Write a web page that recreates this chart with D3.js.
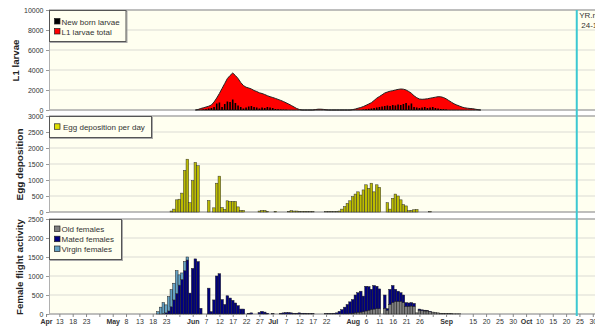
<!DOCTYPE html>
<html>
<head>
<meta charset="utf-8">
<script src="https://cdn.jsdelivr.net/npm/d3@7"></script>
<style>
  body { margin: 0; background: #fff; }
  svg { display: block; font-family: "Liberation Sans", Arial, sans-serif; }
</style>
</head>
<body>
<script>
// axe x : une graduation tous les 5 jours, le nom du mois remplace la premiere du mois
const tickDates = ["04-08","04-13","04-18","04-23","04-28","05-03","05-08","05-13","05-18","05-23","05-28",
  "06-02","06-07","06-12","06-17","06-22","06-27","07-02","07-07","07-12","07-17","07-22","07-27",
  "08-01","08-06","08-11","08-16","08-21","08-26","08-31","09-05","09-10","09-15","09-20","09-25","09-30",
  "10-05","10-10","10-15","10-20","10-25","10-30"];
const tickLabels = ["Apr","13","18","23","","May","8","13","18","23","",
  "Jun","7","12","17","22","27","Jul","7","12","17","22","",
  "Aug","6","11","16","21","26","","Sep","","15","20","25","30",
  "Oct","10","15","20","25","30"];
const monthLabels = ["Apr","May","Jun","Jul","Aug","Sep","Oct"];

// L1 larvae total (surface rouge), une valeur par jour
const larvaeStart = "2011-06-03";
const larvaeTotal = [0,50,150,220,300,380,500,800,1200,1650,2150,2650,3150,3450,3700,
  3450,3150,2750,2450,2280,2200,2100,1950,1850,1720,1650,1550,1430,1330,1250,
  1160,1060,960,850,720,590,450,300,150,50,0,
  0,0,0,0,40,80,80,60,20,0,0,0,0,0,0,0,0,0,
  40,100,180,250,350,470,600,730,950,1180,1350,1520,1700,1800,1880,1930,2000,2060,2100,2080,
  2000,1850,1670,1420,1230,1100,1070,1090,1120,1180,1230,1280,1330,1320,1250,1120,950,780,620,500,
  400,290,220,180,150,130,80,30,0];

// New born larvae (barres noires)
const newbornStart = "2011-06-06";
const newborn = [50,80,150,200,300,650,750,300,600,850,800,1050,700,450,300,150,
  250,350,400,300,250,150,250,200,300,250,200,100,80,50,40,30,
  0,0,0,0,0,0,0,0,0,0,0,0,0,0,0,0,0,0,0,0,0,0,0,0,0,0,0,0,
  50,80,120,150,200,250,300,350,400,450,400,500,450,550,500,600,
  700,450,650,300,250,200,250,300,200,250,300,200,150,100,80,50];

// Egg deposition per day
const eggStart = "2011-05-25";
const eggs = [30,90,380,400,590,1300,1650,290,980,1550,1450,
  0,0,0,
  360,0,130,900,1120,140,80,350,330,330,330,160,50,50,
  0,0,0,0,0,30,50,50,20,0,0,20,0,0,0,0,20,40,30,30,20,15,20,10,10,10,0,0,0,0,10,10,10,10,15,
  30,90,170,270,350,480,560,630,530,690,850,740,900,630,850,770,0,0,290,90,
  430,560,500,380,230,190,40,50,70,80,0,0,0,0,10];

// Female flight activity (barres empilees)
const virginStart = "2011-05-18";
const virginFemales = [0,0,60,180,290,210,380,450,440,600,270,170,240,80];
const matedStart = "2011-05-18";
const matedFemales = [0,0,0,0,10,30,80,190,370,540,760,910,1140,1420,
  550,1200,1450,1380,150,0,0,680,60,370,1000,1060,380,250,480,420,360,290,220,130,130,
  0,20,30,0,0,40,70,50,20,0,10,0,0,20,30,40,40,30,20,20,30,20,20,10,10,10,0,0,0,0,10,10,10,20,30,
  70,115,180,250,310,360,470,520,550,410,650,620,530,620,590,520,
  0,
  350,40,400,450,320,270,230,200,100,90,90,80,0,30,20,20,10,10];
const oldStart = "2011-07-27";
const oldFemales = [0,0,0,0,10,20,30,40,50,60,80,100,120,130,140,140,
  0,
  150,100,250,300,330,330,330,300,200,200,210,200,30,100,90,80,80,60,50,40,30,20,15,10,10,10,5,5,5];

const todayDate = "2011-10-24";

/* ---------------------------------------------------------------- */
const parse = d3.utcParse("%Y-%m-%d");

const svg = d3.select("body").append("svg")
  .attr("width", 595)
  .attr("height", 330);

// echelle du temps, commune aux trois graphes
const x = d3.scaleUtc()
  .domain([parse("2011-04-09"), parse("2011-11-01")])
  .range([48.7, 598.1]);
const dayW = x(parse("2011-04-10")) - x(parse("2011-04-09"));

function series(start, values) {
  const t0 = parse(start);
  return values.map((v, i) => ({ date: d3.utcDay.offset(t0, i), value: v }));
}

const panels = [
  { top: 10, bottom: 110, max: 10000, step: 2000, title: "L1 larvae", tx: 15, tl: 42 },
  { top: 116, bottom: 212, max: 3000, step: 500, title: "Egg deposition", tx: 19.3, tl: 72 },
  { top: 219, bottom: 314, max: 2500, step: 500, title: "Female flight activity", tx: 19.7, tl: 96 }
];

panels.forEach(p => {
  p.y = d3.scaleLinear().domain([0, p.max]).range([p.bottom, p.top]);
  const g = svg.append("g");
  p.g = g;

  // fond
  g.append("rect")
    .attr("x", 49).attr("y", p.top)
    .attr("width", 560).attr("height", p.bottom - p.top)
    .attr("fill", "#fffff0");

  // grille
  const vals = d3.range(0, p.max + 1, p.step);
  g.selectAll(".grid")
    .data(vals)
    .join("line")
    .attr("x1", 49).attr("x2", 600)
    .attr("y1", d => p.y(d)).attr("y2", d => p.y(d))
    .attr("stroke", d => (d === p.max || d === 0) ? "#a8a8a8" : "#dcdcd4")
    .attr("stroke-width", d => (d === p.max || d === 0) ? 1.6 : 1.2);

  // axe y
  const ax = g.append("g")
    .attr("transform", "translate(49,0)")
    .call(d3.axisLeft(p.y).tickValues(vals).tickSize(3).tickPadding(2.5).tickFormat(d3.format("d")));
  ax.select(".domain").attr("stroke", "#b0b0b0");
  ax.selectAll(".tick line").attr("stroke", "#999");
  ax.selectAll("text").attr("font-size", 7).attr("fill", "#333")
    .attr("font-family", "'Liberation Sans', Arial, sans-serif");

  // titre
  g.append("text")
    .attr("transform", `translate(${p.tx},${(p.top + p.bottom) / 2 + 0.5}) rotate(-90)`)
    .attr("text-anchor", "middle")
    .attr("dominant-baseline", "central")
    .attr("font-size", 9.7)
    .attr("font-weight", "bold")
    .attr("fill", "#222")
    .attr("textLength", p.tl)
    .attr("lengthAdjust", "spacingAndGlyphs")
    .text(p.title);
});

/* L1 LARVAE -------------------------------------------------------- */
const pL = panels[0];
const larvae = series(larvaeStart, larvaeTotal);
pL.g.append("path")
  .datum(larvae)
  .attr("d", d3.area().x(d => x(d.date)).y0(pL.y(0)).y1(d => pL.y(d.value)))
  .attr("fill", "#ff0000")
  .attr("stroke", "#222")
  .attr("stroke-width", 1);

pL.g.selectAll(".nb")
  .data(series(newbornStart, newborn).filter(d => d.value > 0))
  .join("rect")
  .attr("x", d => x(d.date) - 0.8)
  .attr("width", 1.6)
  .attr("y", d => pL.y(d.value))
  .attr("height", d => pL.y(0) - pL.y(d.value))
  .attr("fill", "#000");

/* EGGS ------------------------------------------------------------- */
const pE = panels[1];
pE.g.selectAll(".egg")
  .data(series(eggStart, eggs).filter(d => d.value > 0))
  .join("rect")
  .attr("x", d => x(d.date) - dayW / 2)
  .attr("width", dayW)
  .attr("y", d => pE.y(d.value))
  .attr("height", d => pE.y(0) - pE.y(d.value))
  .attr("fill", "#bcbc00")
  .attr("stroke", "#333")
  .attr("stroke-width", 0.5);

/* FLIGHT ----------------------------------------------------------- */
const pF = panels[2];
const toMap = arr => new Map(arr.map(d => [+d.date, d.value]));
const oldM = toMap(series(oldStart, oldFemales));
const matM = toMap(series(matedStart, matedFemales));
const virM = toMap(series(virginStart, virginFemales));
const days = d3.utcDays(parse("2011-05-18"), parse("2011-09-15"));
const table = days.map(dt => ({
  date: dt,
  old: oldM.get(+dt) || 0,
  mated: matM.get(+dt) || 0,
  virgin: virM.get(+dt) || 0
}));
const colors = { old: "#808080", mated: "#00007f", virgin: "#64a2c4" };
const stacked = d3.stack().keys(["old", "mated", "virgin"])(table);

pF.g.selectAll(".layer")
  .data(stacked)
  .join("g")
  .attr("fill", d => colors[d.key])
  .selectAll("rect")
  .data(d => d.filter(s => s[1] - s[0] > 0))
  .join("rect")
  .attr("x", d => x(d.data.date) - dayW / 2)
  .attr("width", dayW)
  .attr("y", d => pF.y(d[1]))
  .attr("height", d => pF.y(d[0]) - pF.y(d[1]))
  .attr("stroke", "#222")
  .attr("stroke-width", 0.5);

/* AXE X ------------------------------------------------------------- */
const xa = svg.append("g")
  .attr("transform", `translate(0,${pF.bottom})`)
  .call(d3.axisBottom(x)
    .tickValues(tickDates.map(s => parse("2011-" + s)))
    .tickSize(3)
    .tickPadding(2)
    .tickFormat((d, i) => tickLabels[i]));
xa.select(".domain").remove();
xa.selectAll(".tick line").attr("stroke", "#888");
xa.selectAll("text")
  .attr("font-size", 7)
  .attr("fill", "#333")
  .attr("font-family", "'Liberation Sans', Arial, sans-serif")
  .attr("font-weight", (d, i) => monthLabels.includes(tickLabels[i]) ? "bold" : "normal");

/* JOUR COURANT ------------------------------------------------------ */
const xt = x(parse(todayDate));
svg.append("line")
  .attr("x1", xt).attr("x2", xt)
  .attr("y1", 10).attr("y2", 316)
  .attr("stroke", "#3cc8d2")
  .attr("stroke-width", 2);
svg.append("text").attr("x", xt + 2.5).attr("y", 18).attr("font-size", 8).attr("fill", "#333").text("YR.m");
svg.append("text").attr("x", xt + 4.5).attr("y", 27.5).attr("font-size", 8).attr("fill", "#333").text("24-1");

/* LEGENDES ---------------------------------------------------------- */
function legend(p, w, h, items) {
  const lg = p.g.append("g");
  lg.append("rect")
    .attr("x", 50.5).attr("y", p.top + 1.5)
    .attr("width", w).attr("height", h)
    .attr("fill", "none").attr("stroke", "#aaa");
  lg.append("rect")
    .attr("x", 49.5).attr("y", p.top + 0.5)
    .attr("width", w).attr("height", h)
    .attr("fill", "#fffff0").attr("stroke", "#555");
  items.forEach((it, i) => {
    const cy = p.top + it.cy;
    lg.append("rect")
      .attr("x", 54.5).attr("y", cy - 3)
      .attr("width", 5.5).attr("height", 5.5)
      .attr("fill", it.color).attr("stroke", "#222").attr("stroke-width", 0.7);
    lg.append("text")
      .attr("x", it.tx).attr("y", cy + 3)
      .attr("font-size", 8).attr("fill", "#333")
      .text(it.label);
  });
}
legend(pL, 76.5, 31, [
  { label: "New born larvae", color: "#000", cy: 11.5, tx: 61.5 },
  { label: "L1 larvae total", color: "#ff0000", cy: 21.5, tx: 61.5 }
]);
legend(pE, 102, 21, [
  { label: "Egg deposition per day", color: "#e0e000", cy: 10.8, tx: 63 }
]);
legend(pF, 72, 40, [
  { label: "Old females", color: "#808080", cy: 10, tx: 61.5 },
  { label: "Mated females", color: "#00007f", cy: 20.2, tx: 61.5 },
  { label: "Virgin females", color: "#64a2c4", cy: 30, tx: 61.5 }
]);
</script>
</body>
</html>
